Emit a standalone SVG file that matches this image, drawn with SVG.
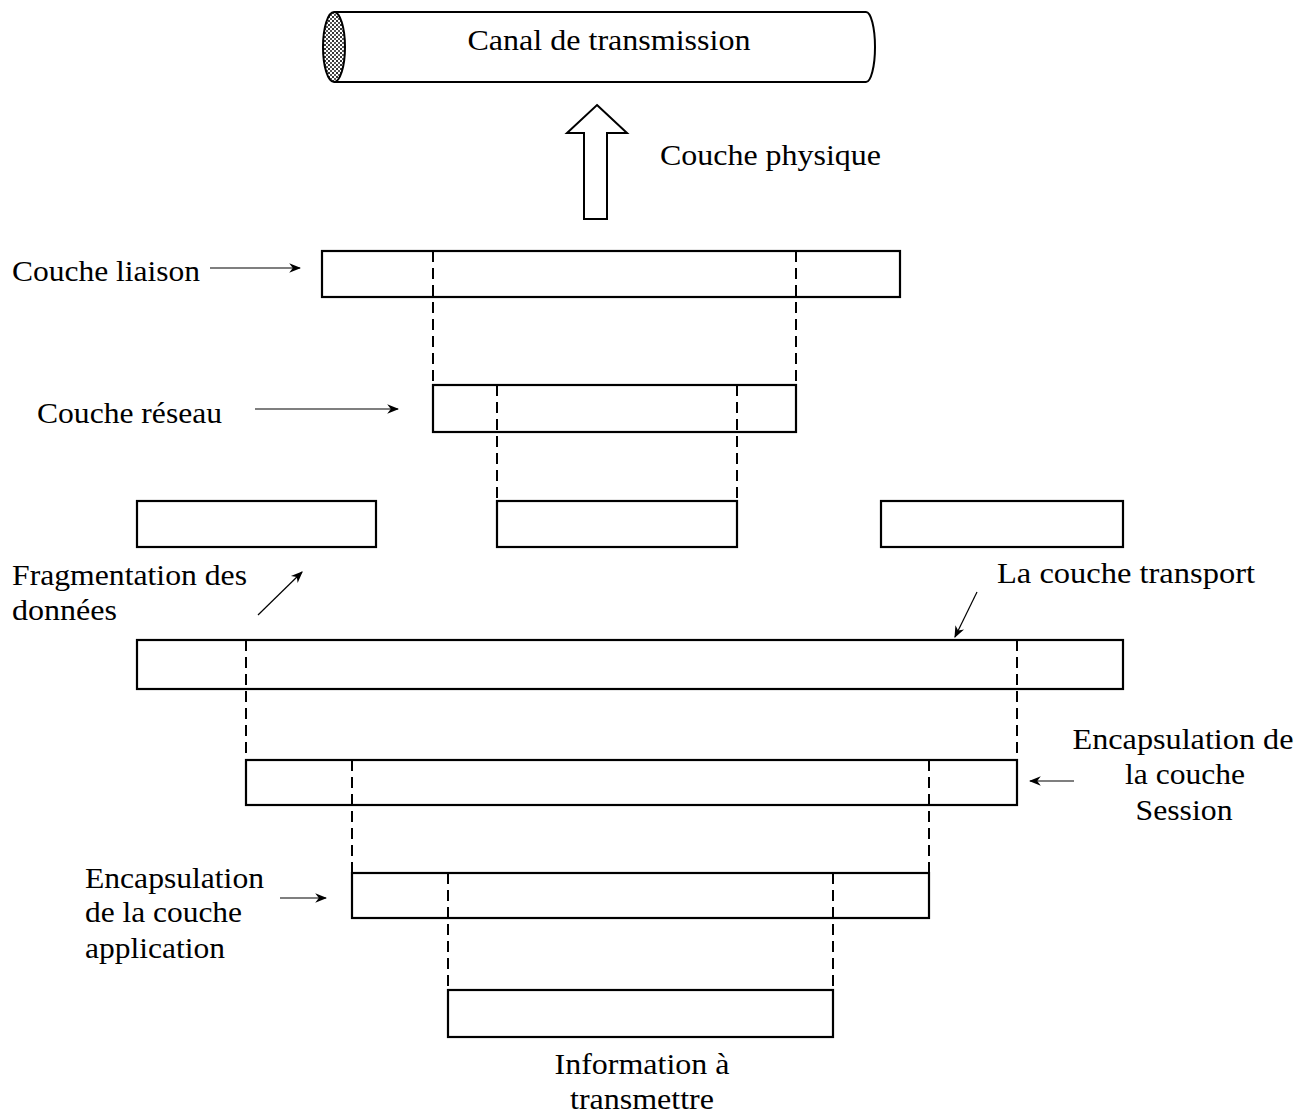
<svg xmlns="http://www.w3.org/2000/svg" width="1313" height="1119" viewBox="0 0 1313 1119">
<style>
.t{font-family:"Liberation Serif","Times New Roman",serif;font-size:30px;fill:#000}
.box{fill:#fff;stroke:#000;stroke-width:2.2}
.dash{stroke:#000;stroke-width:2;stroke-dasharray:11 6;fill:none}
.arr{stroke:#000;stroke-width:1.2;fill:none;marker-end:url(#ah)}
</style>
<defs>
<marker id="ah" viewBox="0 0 10 10" refX="9" refY="5" markerWidth="12" markerHeight="12" markerUnits="userSpaceOnUse" orient="auto">
<path d="M0,1 L10,5 L0,9 L3,5 Z" fill="#000"/>
</marker>
<pattern id="stip" width="4" height="4" patternUnits="userSpaceOnUse">
<rect width="4" height="4" fill="#fff"/>
<rect width="2" height="2" fill="#333"/>
<rect x="2" y="2" width="2" height="2" fill="#555"/>
</pattern>
</defs>
<rect width="1313" height="1119" fill="#fff"/>

<g id="canal">
<path d="M334 12 L866 12 A9 35 0 0 1 866 82 L334 82" fill="#fff" stroke="#000" stroke-width="2"/>
<ellipse cx="334" cy="47" rx="11" ry="35" fill="url(#stip)" stroke="#000" stroke-width="2"/>
<text class="t" x="609" y="50" text-anchor="middle" textLength="283" lengthAdjust="spacingAndGlyphs">Canal de transmission</text>
</g>

<g id="physique">
<polygon points="597,105 627,133 607,133 607,219 584,219 584,133 567,133" fill="#fff" stroke="#000" stroke-width="2"/>
<text class="t" x="660" y="165" textLength="221" lengthAdjust="spacingAndGlyphs">Couche physique</text>
</g>

<g id="liaison">
<rect class="box" x="322" y="251" width="578" height="46"/>
<text class="t" x="12" y="281" textLength="188" lengthAdjust="spacingAndGlyphs">Couche liaison</text>
</g>

<g id="reseau">
<rect class="box" x="433" y="385" width="363" height="47"/>
<text class="t" x="37" y="423" textLength="185" lengthAdjust="spacingAndGlyphs">Couche réseau</text>
</g>

<g id="fragment-left"><rect class="box" x="137" y="501" width="239" height="46"/></g>
<g id="fragment-mid"><rect class="box" x="497" y="501" width="240" height="46"/></g>
<g id="fragment-right"><rect class="box" x="881" y="501" width="242" height="46"/></g>

<g id="fragmentation-label">
<text class="t" x="12" y="585" textLength="235" lengthAdjust="spacingAndGlyphs">Fragmentation des</text>
<text class="t" x="12" y="620" textLength="105" lengthAdjust="spacingAndGlyphs">données</text>
</g>

<g id="transport">
<rect class="box" x="137" y="640" width="986" height="49"/>
<text class="t" x="997" y="583" textLength="258" lengthAdjust="spacingAndGlyphs">La couche transport</text>
</g>

<g id="session">
<rect class="box" x="246" y="760" width="771" height="45"/>
<text class="t" x="1183" y="749" text-anchor="middle" textLength="221" lengthAdjust="spacingAndGlyphs">Encapsulation de</text>
<text class="t" x="1185" y="784" text-anchor="middle" textLength="120" lengthAdjust="spacingAndGlyphs">la couche</text>
<text class="t" x="1184" y="820" text-anchor="middle" textLength="97" lengthAdjust="spacingAndGlyphs">Session</text>
</g>

<g id="application">
<rect class="box" x="352" y="873" width="577" height="45"/>
<text class="t" x="85" y="888" textLength="179" lengthAdjust="spacingAndGlyphs">Encapsulation</text>
<text class="t" x="85" y="922" textLength="157" lengthAdjust="spacingAndGlyphs">de la couche</text>
<text class="t" x="85" y="958" textLength="140" lengthAdjust="spacingAndGlyphs">application</text>
</g>

<g id="information">
<rect class="box" x="448" y="990" width="385" height="47"/>
<text class="t" x="642" y="1074" text-anchor="middle" textLength="175" lengthAdjust="spacingAndGlyphs">Information à</text>
<text class="t" x="642" y="1109" text-anchor="middle" textLength="144" lengthAdjust="spacingAndGlyphs">transmettre</text>
</g>

<g id="connectors">
<line class="dash" x1="433" y1="251" x2="433" y2="385"/>
<line class="dash" x1="796" y1="251" x2="796" y2="385"/>
<line class="dash" x1="497" y1="385" x2="497" y2="501"/>
<line class="dash" x1="737" y1="385" x2="737" y2="501"/>
<line class="dash" x1="246" y1="640" x2="246" y2="760"/>
<line class="dash" x1="1017" y1="640" x2="1017" y2="760"/>
<line class="dash" x1="352" y1="760" x2="352" y2="873"/>
<line class="dash" x1="929" y1="760" x2="929" y2="873"/>
<line class="dash" x1="448" y1="873" x2="448" y2="990"/>
<line class="dash" x1="833" y1="873" x2="833" y2="990"/>
<line class="arr" x1="210" y1="268" x2="300" y2="268"/>
<line class="arr" x1="255" y1="409" x2="398" y2="409"/>
<line class="arr" x1="258" y1="615" x2="302" y2="572"/>
<line class="arr" x1="977" y1="592" x2="955" y2="637"/>
<line class="arr" x1="1074" y1="781" x2="1030" y2="781"/>
<line class="arr" x1="280" y1="898" x2="326" y2="898"/>
</g>
</svg>
